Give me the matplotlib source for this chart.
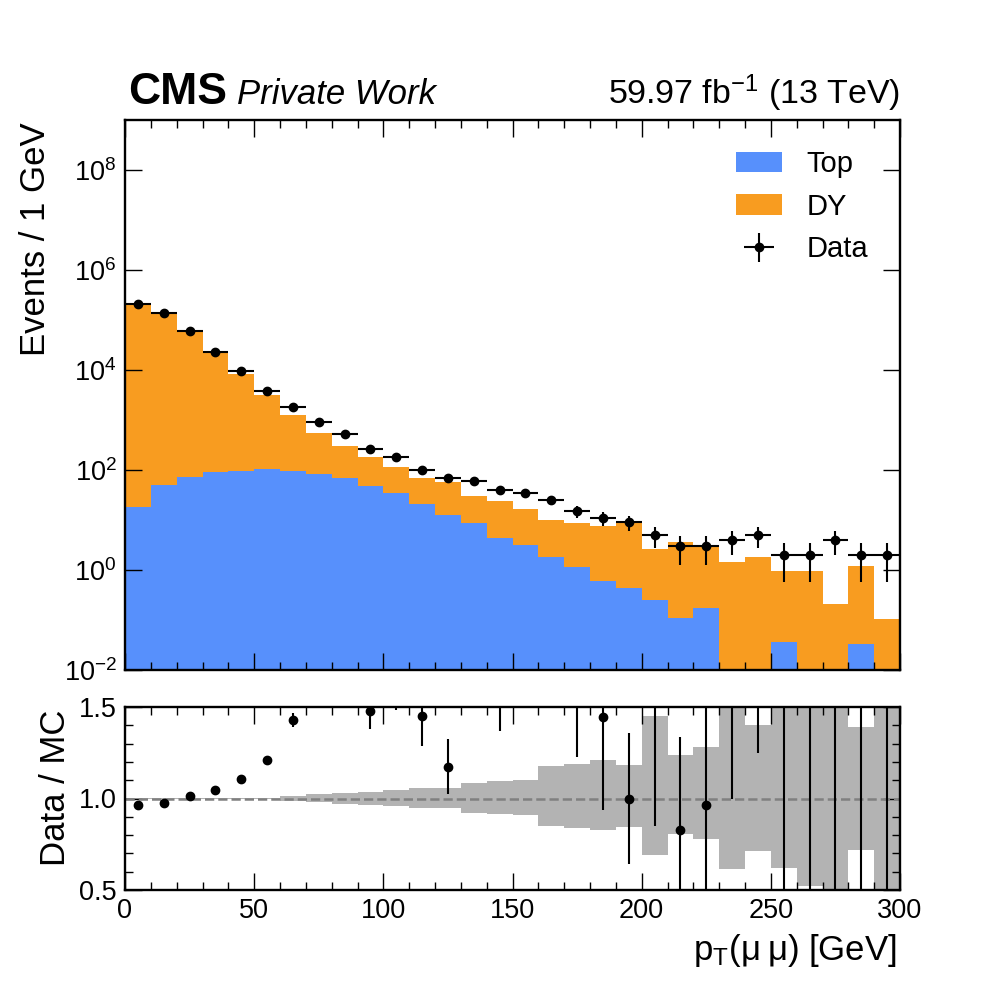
"""Dimuon pT: stacked Top + DY simulation vs data, with data/MC ratio panel."""

import matplotlib

matplotlib.use("Agg")

import matplotlib.pyplot as plt
import numpy as np
from matplotlib.ticker import FixedLocator, MultipleLocator, NullLocator, FormatStrFormatter

BLUE = "#5790fc"     # Top
ORANGE = "#f89c20"   # DY
BAND = "#b3b3b3"     # MC stat. uncertainty in ratio
INK = "black"

# 10 GeV bins from 0 to 300 GeV
bin_edges = np.arange(0, 301, 10)

top = [18.2, 50, 72, 91, 95, 105, 95, 85, 70, 48,
       34, 21, 12.6, 8.7, 4.4, 3.1, 1.82, 1.15, 0.60, 0.44,
       0.25, 0.111, 0.174, 0, 0, 0.036, 0, 0, 0.033, 0]
dy = [2.12e5, 1.4e5, 6.0e4, 2.19e4, 8400, 3000, 1165, 465, 230, 134,
      81, 48, 45.4, 21.3, 19.6, 13.5, 8.2, 7.55, 7.0, 8.56,
      2.38, 3.52, 2.93, 1.45, 1.82, 0.92, 0.955, 0.209, 1.17, 0.105]
data = [205000, 136500, 61000, 23000, 9400, 3750, 1800, 900, 520, 269,
        182, 100, 68, 59, 40, 34, 25, 15, 11, 9,
        5, 3, 3, 4, 5, 2, 2, 4, 2, 2]

# relative MC uncertainty (upper edge of the band is 1 + r, lower is 1 / (1 + r))
mc_rel_unc = [0.001, 0.001, 0.002, 0.002, 0.003, 0.005, 0.014, 0.022, 0.030, 0.037,
              0.045, 0.055, 0.055, 0.085, 0.095, 0.100, 0.178, 0.189, 0.211, 0.184,
              0.451, 0.238, 0.284, 0.623, 0.404, 0.610, 0.920, 1.500, 0.393, 1.500]

# data/MC uncertainty shown in the ratio panel
ratio_err = [0.002, 0.003, 0.004, 0.007, 0.011, 0.02, 0.04, 0.055, 0.08, 0.10,
             0.10, 0.16, 0.15, 0.26, 0.30, 0.36, 0.52, 0.50, 0.51, 0.36,
             1.05, 0.51, 0.70, 1.76, 1.50, 2.0, 2.0, 20.0, 1.5, 20.0]

plt.rcParams.update({
    "font.family": ["Liberation Sans", "DejaVu Sans"],
    "mathtext.fontset": "custom",
    "mathtext.rm": "Liberation Sans",
    "mathtext.it": "Liberation Sans:italic",
    "mathtext.bf": "Liberation Sans:bold",
    "mathtext.default": "regular",
    "axes.linewidth": 1.7,
})

top = np.array(top)
dy = np.array(dy)
data = np.array(data, dtype=float)
mc_rel_unc = np.array(mc_rel_unc)
ratio_err = np.array(ratio_err)
total = top + dy
centers = 0.5 * (bin_edges[1:] + bin_edges[:-1])
half_width = 0.5 * np.diff(bin_edges)

fig = plt.figure(figsize=(10, 10), dpi=100)
ax = fig.add_axes([0.125, 0.33, 0.775, 0.55])
rax = fig.add_axes([0.125, 0.11, 0.775, 0.183])

# --- main panel -------------------------------------------------------------
ax.set_yscale("log")
ax.stairs(top, bin_edges, baseline=0, fill=True, color=BLUE, lw=0, label="Top")
ax.stairs(total, bin_edges, baseline=top, fill=True, color=ORANGE, lw=0, label="DY")
ax.errorbar(centers, data, xerr=half_width, yerr=np.sqrt(data), fmt="o", color=INK,
            ms=6, elinewidth=1.5, capsize=0, label="Data")

ax.set_xlim(0, 300)
ax.set_ylim(1e-2, 1e9)
ax.yaxis.set_major_locator(FixedLocator([1e-2, 1e0, 1e2, 1e4, 1e6, 1e8]))
ax.yaxis.set_minor_locator(NullLocator())
ax.xaxis.set_major_locator(MultipleLocator(50))
ax.xaxis.set_minor_locator(MultipleLocator(10))
ax.tick_params(labelbottom=False)

ax.set_ylabel("Events / 1 GeV", fontsize=25, loc="top")
ax.yaxis.set_label_coords(-0.094, 0.995)

ax.legend(loc="upper left", bbox_to_anchor=(0.789, 0.945), frameon=False,
          fontsize=21, borderpad=0, borderaxespad=0, labelspacing=0.5,
          handlelength=1.55, handleheight=0.72, handletextpad=0.86)

ax.text(0.0035, 1.029, "CMS", transform=ax.transAxes, fontsize=32,
        fontweight="bold", va="baseline", ha="left")
ax.text(0.1445, 1.029, "Private Work", transform=ax.transAxes, fontsize=25,
        style="italic", va="baseline", ha="left")
ax.text(1.0, 1.029, "59.97 fb$^{-1}$ (13 TeV)", transform=ax.transAxes,
        fontsize=24.5, va="baseline", ha="right")

# --- ratio panel ------------------------------------------------------------
rax.stairs(1 + mc_rel_unc, bin_edges, baseline=1 / (1 + mc_rel_unc), fill=True,
           color=BAND, lw=0)
rax.axhline(1.0, color="grey", ls="--", lw=1.8)
ratio = data / total
rax.errorbar(centers, ratio, yerr=ratio_err, fmt="o", color=INK, ms=6,
             elinewidth=1.5, capsize=0)

rax.set_xlim(0, 300)
rax.set_ylim(0.5, 1.5)
rax.yaxis.set_major_locator(MultipleLocator(0.5))
rax.yaxis.set_minor_locator(MultipleLocator(0.1))
rax.yaxis.set_major_formatter(FormatStrFormatter("%.1f"))
rax.xaxis.set_major_locator(MultipleLocator(50))
rax.xaxis.set_minor_locator(MultipleLocator(10))

rax.set_ylabel("Data / MC", fontsize=25, loc="top")
rax.yaxis.set_label_coords(-0.068, 0.985)
rax.set_xlabel("p$_\\mathrm{T}$(μ\u2009μ) [GeV]", fontsize=25, loc="right")
rax.xaxis.set_label_coords(0.996, -0.23)

for a in (ax, rax):
    a.tick_params(which="both", direction="in", top=True, right=True,
                  labelsize=19.5, pad=6)
    a.tick_params(which="major", length=12, width=1.0)
    a.tick_params(which="minor", length=6, width=1.0)

fig.savefig("out.png", dpi=100)
